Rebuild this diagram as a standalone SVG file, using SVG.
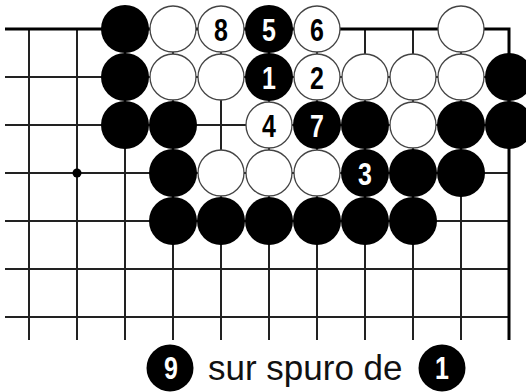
<svg xmlns="http://www.w3.org/2000/svg" width="526" height="392" viewBox="0 0 526 392">
<defs>
<style>
.ln{stroke:#222;stroke-width:2;fill:none}
.edge{stroke:#000;stroke-width:3;fill:none}
.b{fill:#000}
.w{fill:#fff;stroke:#444;stroke-width:1.3}
.nb{fill:#fff;font-family:"Liberation Sans",Arial,sans-serif;font-weight:bold;font-size:32px;text-anchor:middle}
.nw{fill:#000;font-family:"Liberation Sans",Arial,sans-serif;font-weight:bold;font-size:32px;text-anchor:middle}
.cap{fill:#111;font-family:"Liberation Sans",Arial,sans-serif;font-size:35px}
</style>
</defs>
<rect width="526" height="392" fill="#fff"/>
<g id="grid">
<path class="ln" d="M5 77H509M5 125H509M5 173H509M5 221H509M5 269H509M5 317H509"/>
<path class="ln" d="M29 29V340M77 29V340M125 29V340M173 29V340M221 29V340M269 29V340M317 29V340M365 29V340M413 29V340M461 29V340"/>
<path class="edge" d="M5 29H509V340"/>
<circle cx="77" cy="173" r="4.5" fill="#000"/>
</g>
<g id="stones">
<g id="r0c2"><circle class="b" cx="125" cy="29" r="24"/></g>
<g id="r0c3"><circle class="w" cx="173" cy="29" r="23"/></g>
<g id="r0c4"><circle class="w" cx="221" cy="29" r="23"/><text class="nw" transform="translate(221 41) scale(0.78 1)">8</text></g>
<g id="r0c5"><circle class="b" cx="269" cy="29" r="24"/><text class="nb" transform="translate(269 41) scale(0.78 1)">5</text></g>
<g id="r0c6"><circle class="w" cx="317" cy="29" r="23"/><text class="nw" transform="translate(317 41) scale(0.78 1)">6</text></g>
<g id="r0c9"><circle class="w" cx="461" cy="29" r="23"/></g>

<g id="r1c2"><circle class="b" cx="125" cy="77" r="24"/></g>
<g id="r1c3"><circle class="w" cx="173" cy="77" r="23"/></g>
<g id="r1c4"><circle class="w" cx="221" cy="77" r="23"/></g>
<g id="r1c5"><circle class="b" cx="269" cy="77" r="24"/><text class="nb" transform="translate(269 89) scale(0.78 1)">1</text></g>
<g id="r1c6"><circle class="w" cx="317" cy="77" r="23"/><text class="nw" transform="translate(317 89) scale(0.78 1)">2</text></g>
<g id="r1c7"><circle class="w" cx="365" cy="77" r="23"/></g>
<g id="r1c8"><circle class="w" cx="413" cy="77" r="23"/></g>
<g id="r1c9"><circle class="w" cx="461" cy="77" r="23"/></g>
<g id="r1c10"><circle class="b" cx="509" cy="77" r="24"/></g>

<g id="r2c2"><circle class="b" cx="125" cy="125" r="24"/></g>
<g id="r2c3"><circle class="b" cx="173" cy="125" r="24"/></g>
<g id="r2c5"><circle class="w" cx="269" cy="125" r="23"/><text class="nw" transform="translate(269 137) scale(0.78 1)">4</text></g>
<g id="r2c6"><circle class="b" cx="317" cy="125" r="24"/><text class="nb" transform="translate(317 137) scale(0.78 1)">7</text></g>
<g id="r2c7"><circle class="b" cx="365" cy="125" r="24"/></g>
<g id="r2c8"><circle class="w" cx="413" cy="125" r="23"/></g>
<g id="r2c9"><circle class="b" cx="461" cy="125" r="24"/></g>
<g id="r2c10"><circle class="b" cx="509" cy="125" r="24"/></g>

<g id="r3c3"><circle class="b" cx="173" cy="173" r="24"/></g>
<g id="r3c4"><circle class="w" cx="221" cy="173" r="23"/></g>
<g id="r3c5"><circle class="w" cx="269" cy="173" r="23"/></g>
<g id="r3c6"><circle class="w" cx="317" cy="173" r="23"/></g>
<g id="r3c7"><circle class="b" cx="365" cy="173" r="24"/><text class="nb" transform="translate(365 185) scale(0.78 1)">3</text></g>
<g id="r3c8"><circle class="b" cx="413" cy="173" r="24"/></g>
<g id="r3c9"><circle class="b" cx="461" cy="173" r="24"/></g>

<g id="r4c3"><circle class="b" cx="173" cy="221" r="24"/></g>
<g id="r4c4"><circle class="b" cx="221" cy="221" r="24"/></g>
<g id="r4c5"><circle class="b" cx="269" cy="221" r="24"/></g>
<g id="r4c6"><circle class="b" cx="317" cy="221" r="24"/></g>
<g id="r4c7"><circle class="b" cx="365" cy="221" r="24"/></g>
<g id="r4c8"><circle class="b" cx="413" cy="221" r="24"/></g>
</g>
<g id="caption">
<circle class="b" cx="170" cy="368" r="23.5"/><text class="nb" transform="translate(171 379) scale(0.78 1)">9</text>
<text class="cap" x="208" y="380">sur spuro de</text>
<circle class="b" cx="442" cy="368" r="23.5"/><text class="nb" transform="translate(442 379) scale(0.78 1)">1</text>
</g>
</svg>
